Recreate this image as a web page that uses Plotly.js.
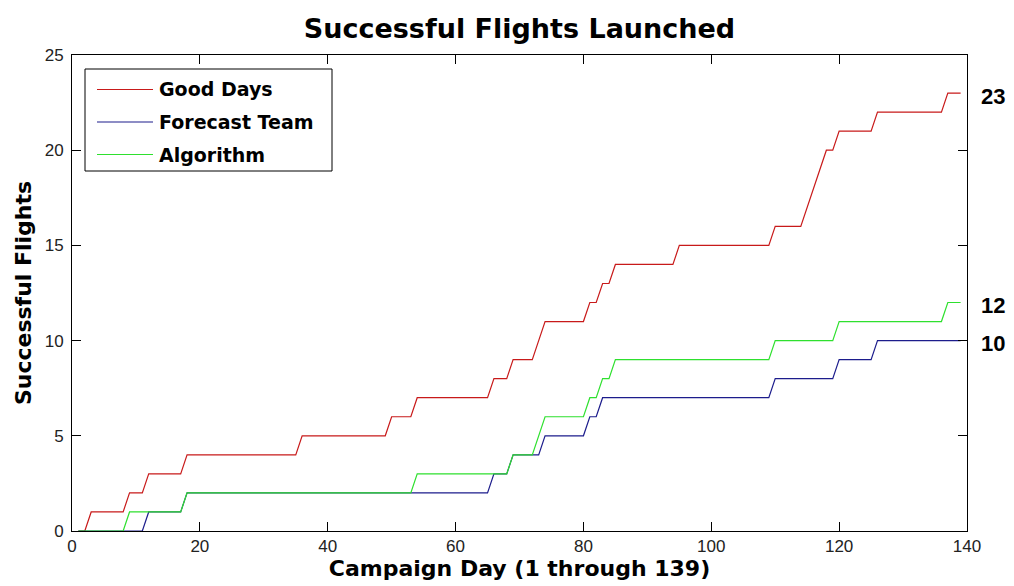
<!DOCTYPE html>
<html>
<head>
<meta charset="utf-8">
<script src="https://cdn.plot.ly/plotly-3.0.1.min.js"></script>
<style>html,body{margin:0;padding:0;background:#fff;}#chart{width:1014px;height:586px;}</style>
</head>
<body>
<div id="chart"></div>
<script>
// ---- data ----
const seriesNames = ["Good Days", "Forecast Team", "Algorithm"];
const goodDaysX = [1, 2, 3, 8, 9, 11, 12, 17, 18, 35, 36, 49, 50, 53, 54, 65, 66, 68, 69, 72, 73, 74, 80, 81, 82, 83, 84, 85, 94, 95, 109, 110, 114, 115, 116, 117, 118, 119, 120, 125, 126, 136, 137, 139];
const goodDaysY = [0, 0, 1, 1, 2, 2, 3, 3, 4, 4, 5, 5, 6, 6, 7, 7, 8, 8, 9, 9, 10, 11, 11, 12, 12, 13, 13, 14, 14, 15, 15, 16, 16, 17, 18, 19, 20, 20, 21, 21, 22, 22, 23, 23];
const forecastX = [1, 11, 12, 17, 18, 65, 66, 68, 69, 73, 74, 80, 81, 82, 83, 109, 110, 119, 120, 125, 126, 139];
const forecastY = [0, 0, 1, 1, 2, 2, 3, 3, 4, 4, 5, 5, 6, 6, 7, 7, 8, 8, 9, 9, 10, 10];
const algorithmX = [1, 8, 9, 17, 18, 53, 54, 68, 69, 72, 74, 80, 81, 82, 83, 84, 85, 109, 110, 119, 120, 136, 137, 139];
const algorithmY = [0, 0, 1, 1, 2, 2, 3, 3, 4, 4, 6, 6, 7, 7, 8, 8, 9, 9, 10, 10, 11, 11, 12, 12];
const xTicks = [0, 20, 40, 60, 80, 100, 120, 140];
const yTicks = [0, 5, 10, 15, 20, 25];

// ---- styling ----
const colors = ["#c81a1a", "#1c1c8c", "#2ee02e"];
const BOLD = "DejaVu Sans";
const REG = "Liberation Sans";
const L = 72, T = 55, W = 895, H = 476;
const px = x => (x - L) / W;
const py = y => (T + H - y) / H;

const xs = [goodDaysX, forecastX, algorithmX];
const ys = [goodDaysY, forecastY, algorithmY];

const traces = seriesNames.map((n, i) => ({
  type: "scatter", mode: "lines", name: n,
  x: xs[i], y: ys[i],
  line: {color: colors[i], width: 1.2},
  showlegend: false, hoverinfo: "x+y+name"
}));

// manual MATLAB-style legend
const shapes = [{
  type: "rect", xref: "paper", yref: "paper", layer: "above",
  x0: px(85), x1: px(332), y0: py(171), y1: py(69),
  fillcolor: "#ffffff", line: {color: "#000", width: 1}
}];
const annotations = [];
const legendRows = [89.5, 122, 154.5];
seriesNames.forEach((n, i) => {
  shapes.push({type: "line", xref: "paper", yref: "paper", layer: "above",
    x0: px(97), x1: px(153), y0: py(legendRows[i]), y1: py(legendRows[i]),
    line: {color: colors[i], width: 1.2}});
  annotations.push({xref: "paper", yref: "paper", x: px(157), y: py(legendRows[i]),
    xanchor: "left", yanchor: "middle", showarrow: false, text: n,
    font: {family: BOLD, size: 19, color: "#000", weight: "bold"}});
  // end value labels at right
  const last = ys[i][ys[i].length - 1];
  annotations.push({xref: "paper", yref: "y", x: px(979), y: last,
    xanchor: "left", yanchor: "middle", yshift: -3, showarrow: false, text: String(last),
    font: {family: REG, size: 22, color: "#000", weight: "bold"}});
});

const axisCommon = {
  showline: true, linecolor: "#000", linewidth: 1, mirror: "ticks",
  ticks: "inside", ticklen: 9, tickcolor: "#000", tickwidth: 1,
  showgrid: false, zeroline: false,
  tickfont: {family: REG, size: 17, color: "#222"}
};

const layout = {
  width: 1014, height: 586,
  margin: {l: L, r: 1014 - L - W, t: T, b: 586 - T - H, pad: 0},
  paper_bgcolor: "#fff", plot_bgcolor: "#fff",
  showlegend: false,
  title: {text: "Successful Flights Launched", x: 0.5, xref: "paper",
    y: 1 - 29 / 586, yref: "container", yanchor: "middle",
    font: {family: BOLD, size: 27, color: "#000", weight: "bold"}},
  xaxis: Object.assign({}, axisCommon, {
    range: [0, 140], tickvals: xTicks, ticktext: xTicks.map(String),
    title: {text: "Campaign Day (1 through 139)", standoff: 4,
      font: {family: BOLD, size: 22, color: "#000", weight: "bold"}}
  }),
  yaxis: Object.assign({}, axisCommon, {
    range: [0, 25], tickvals: yTicks, ticktext: yTicks.map(String),
    ticklabelstandoff: 4,
    title: {text: "Successful Flights", standoff: 6,
      font: {family: BOLD, size: 22, color: "#000", weight: "bold"}}
  }),
  shapes: shapes,
  annotations: annotations
};

Plotly.newPlot("chart", traces, layout, {displayModeBar: false, staticPlot: true});
</script>
</body>
</html>
